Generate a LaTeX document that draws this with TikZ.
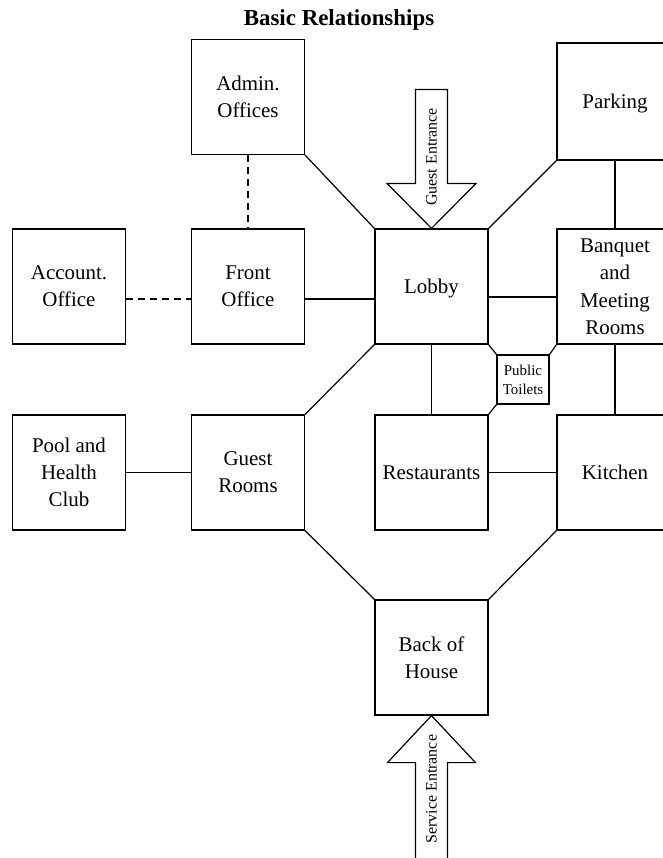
\documentclass[tikz,border=0pt]{standalone}
\usepackage{fontspec}
\setmainfont{Liberation Serif}
\begin{document}
\begin{tikzpicture}[x=1bp,y=-1bp,
  box/.style={draw, line width=1.2bp, minimum width=113bp, minimum height=115bp, align=center, inner sep=0pt, text depth=0pt, font=\fontsize{21}{27}\selectfont},
  smallbox/.style={draw, line width=1.2bp, minimum width=52bp, minimum height=49bp, align=center, inner sep=0pt, text depth=0pt, font=\fontsize{15}{19}\selectfont},
  link/.style={line width=1.2bp},
  dlink/.style={line width=1.2bp, dash pattern=on 7bp off 5bp},
  arrowbody/.style={draw, line width=1.2bp, line join=miter, fill=white},
  arrowtext/.style={rotate=90, font=\fontsize{16}{19}\selectfont, inner sep=0pt},
  titletext/.style={font=\bfseries\fontsize{23}{27}\selectfont, inner sep=0pt, anchor=base}]
\useasboundingbox (0,0) rectangle (663,858);
\begin{scope}
\clip (0,0) rectangle (663,858);
\node[titletext] (title) at (339,25) {Basic Relationships};

\node[box] (admin) at (248,97) {Admin.\\Offices};
\node[box, minimum height=117bp, minimum width=116bp] (parking) at (615,101.5) {Parking};
\node[box] (account) at (69,286.5) {Account.\\Office};
\node[box] (front) at (248,286.5) {Front\\Office};
\node[box] (lobby) at (431.5,286.5) {Lobby};
\node[box, minimum width=116bp, font=\fontsize{21}{27.5}\selectfont] (banquet) at (615,286.5) {Banquet\\and\\Meeting\\Rooms};
\node[smallbox] (toilets) at (523,379.5) {Public\\Toilets};
\node[box] (pool) at (69,472.5) {Pool and\\Health\\Club};
\node[box] (guest) at (248,472.5) {Guest\\Rooms};
\node[box] (rest) at (431.5,472.5) {Restaurants};
\node[box, minimum width=116bp] (kitchen) at (615,472.5) {Kitchen};
\node[box] (boh) at (431.5,657.5) {Back of\\House};

\draw[dlink] (admin.south) -- (front.north);
\draw[dlink] ([yshift=-12.5bp]account.east) -- ([yshift=-12.5bp]front.west);
\draw[link] ([yshift=-12.5bp]front.east) -- ([yshift=-12.5bp]lobby.west);
\draw[link] ([yshift=-10.5bp]lobby.east) -- ([yshift=-10.5bp]banquet.west);
\draw[link] (admin.south east) -- (lobby.north west);
\draw[link] (parking.south west) -- (lobby.north east);
\draw[link] (parking.south) -- (banquet.north);
\draw[link] (lobby.south west) -- (guest.north east);
\draw[link] (lobby.south) -- (rest.north);
\draw[link] (lobby.south east) -- (toilets.north west);
\draw[link] (banquet.south west) -- (toilets.north east);
\draw[link] (toilets.south west) -- (rest.north east);
\draw[link] (banquet.south) -- (kitchen.north);
\draw[link] (pool.east) -- (guest.west);
\draw[link] (rest.east) -- (kitchen.west);
\draw[link] (guest.south east) -- (boh.north west);
\draw[link] (kitchen.south west) -- (boh.north east);

% Guest entrance arrow
\draw[arrowbody] (lobby.north) -- ++(-44.5,-45) -- ++(28.5,0) -- ++(0,-94) -- ++(32,0) -- ++(0,94) -- ++(28.5,0) -- cycle;
\node[arrowtext] (gtext) at ([yshift=71.5bp]lobby.north) {Guest Entrance};

% Service entrance arrow
\draw[arrowbody] (boh.south) -- ++(-44,47) -- ++(28,0) -- ++(0,110) -- ++(32,0) -- ++(0,-110) -- ++(28,0) -- cycle;
\node[arrowtext] (stext) at ([yshift=-73.5bp]boh.south) {Service Entrance};
\end{scope}
\end{tikzpicture}
\end{document}
